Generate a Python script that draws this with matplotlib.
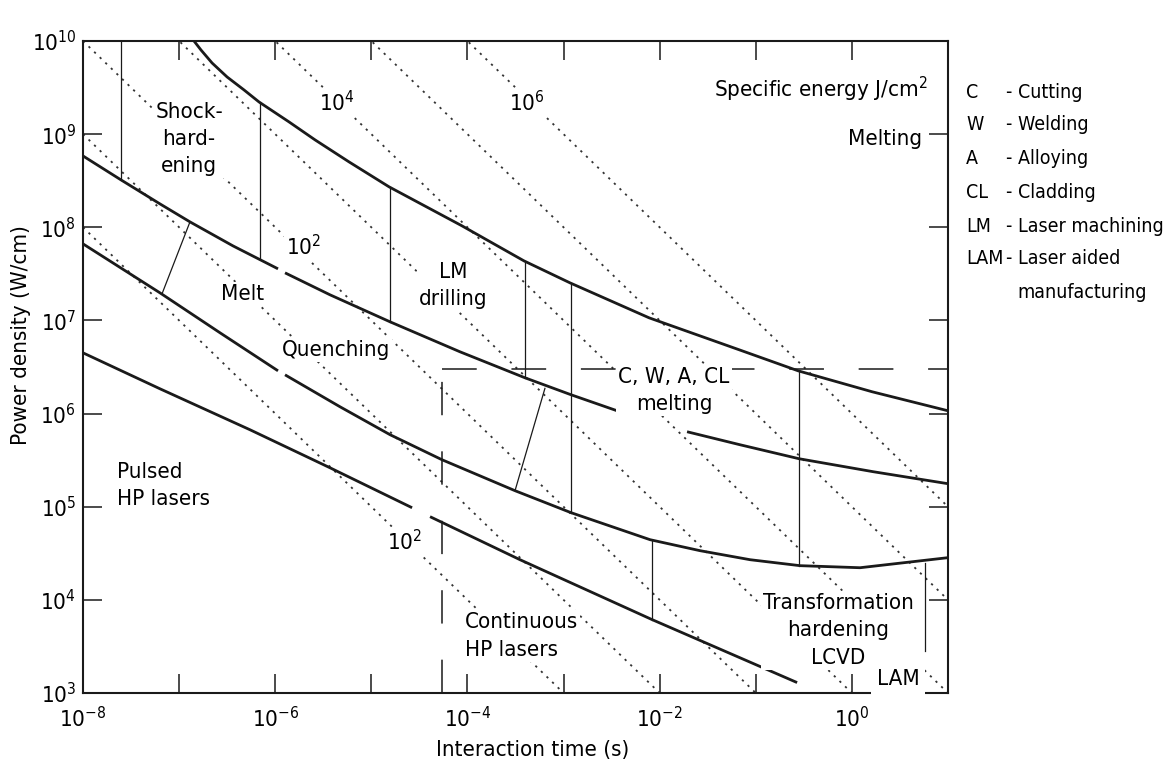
import numpy as np
import matplotlib
matplotlib.use("Agg")
import matplotlib.pyplot as plt

plt.rcParams["font.family"] = ["DejaVu Sans"]
plt.rcParams["font.stretch"] = "condensed"
plt.rcParams["mathtext.default"] = "regular"
plt.rcParams["lines.scale_dashes"] = False

INK = "#1a1a1a"

# boundary curves as log10(time s), log10(power W/cm)
top_lt = [-6.845, -6.772, -6.657, -6.501, -6.324, -6.168, -5.856, -5.585,
          -5.232, -4.815, -4.056, -3.411, -2.932, -2.110, -1.173, -0.559,
          0.211, 1.0]
top_lp = [10.0, 9.903, 9.764, 9.614, 9.474, 9.345, 9.131, 8.938,
          8.702, 8.434, 8.015, 7.639, 7.403, 7.028, 6.685, 6.459,
          6.234, 6.030]

melt_a_lt = [-8.0, -7.605, -7.199, -6.887, -6.439, -5.971]
melt_a_lp = [8.766, 8.509, 8.251, 8.058, 7.800, 7.554]
melt_b_lt = [-5.898, -5.430, -4.805, -4.077, -3.401, -2.922, -2.412]
melt_b_lp = [7.511, 7.275, 6.985, 6.663, 6.384, 6.202, 6.019]
melt_c_lt = [-1.715, -1.163, -0.549, 0.221, 1.0]
melt_c_lp = [5.805, 5.665, 5.515, 5.376, 5.247]

quench_a_lt = [-8.0, -7.199, -6.574, -5.971]
quench_a_lp = [7.822, 7.296, 6.867, 6.459]
quench_b_lt = [-5.898, -5.326, -4.805, -4.264, -3.505, -2.922, -2.100,
               -1.580, -1.059, -0.539, 0.085, 1.0]
quench_b_lp = [6.416, 6.073, 5.773, 5.504, 5.172, 4.936, 4.646,
               4.528, 4.431, 4.367, 4.345, 4.453]

cw_a_lt = [-8.0, -7.199, -6.262, -5.430, -4.576]
cw_a_lp = [6.652, 6.266, 5.826, 5.418, 4.989]
cw_b_lt = [-4.389, -3.453, -2.079, -0.570]
cw_b_lp = [4.893, 4.431, 3.788, 3.112]

# thin region dividers: log10 time, lower and upper log10 power
div_lt = [-7.605, -6.158, -4.805, -3.401, -2.922, -2.079, -0.549, 0.762]
div_lo = [8.509, 7.672, 6.985, 6.384, 4.936, 3.788, 4.367, 3.455]
div_hi = [10.0, 9.345, 8.434, 7.639, 7.403, 4.646, 6.459, 4.399]

# slanted dividers
slant_lt = [[-6.887, -7.178], [-3.192, -3.505]]
slant_lp = [[8.058, 7.285], [6.277, 5.172]]

# iso specific energy lines, J/cm2
energy_levels = [1e0, 1e1, 1e2, 1e3, 1e4, 1e5, 1e6]

# dashed limits of continuous lasers
cw_time = 5.4e-5
cw_power = 3e6

x_exps = list(range(-8, 2))
y_exps = list(range(3, 11))

legend_keys = ["C", "W", "A", "CL", "LM", "LAM"]
legend_names = ["- Cutting", "- Welding", "- Alloying", "- Cladding",
                "- Laser machining", "- Laser aided"]


def curve(ax, lt, lp, lw=2.0):
    ax.plot(10 ** np.array(lt), 10 ** np.array(lp), color=INK, lw=lw,
            solid_capstyle="butt", solid_joinstyle="round", zorder=3)


fig = plt.figure(figsize=(11.65, 7.76), dpi=100)
ax = fig.add_axes([83 / 1165, 1 - 693 / 776, 865 / 1165, 652 / 776])
ax.set_xscale("log")
ax.set_yscale("log")
ax.set_xlim(1e-8, 1e1)
ax.set_ylim(1e3, 1e10)

t_span = np.array([1e-8, 1e1])
for e in energy_levels:
    ax.plot(t_span, e / t_span, color="#333333", lw=1.3,
            dashes=(1.6, 4.0), zorder=1)

for lt, lp in [(top_lt, top_lp), (melt_a_lt, melt_a_lp), (melt_b_lt, melt_b_lp),
               (melt_c_lt, melt_c_lp), (quench_a_lt, quench_a_lp),
               (quench_b_lt, quench_b_lp), (cw_a_lt, cw_a_lp), (cw_b_lt, cw_b_lp)]:
    curve(ax, lt, lp)

for x, lo, hi in zip(div_lt, div_lo, div_hi):
    ax.plot([10 ** x, 10 ** x], [10 ** lo, 10 ** hi], color=INK, lw=0.9, zorder=3)
for lt, lp in zip(slant_lt, slant_lp):
    curve(ax, lt, lp, lw=0.9)

ax.plot([cw_time, 1e1], [cw_power, cw_power], color=INK, lw=1.1,
        dashes=(25, 25), zorder=2)
ax.plot([cw_time, cw_time], [1e3, cw_power], color=INK, lw=1.1,
        dashes=(24, 26), zorder=2)

box = dict(facecolor="white", edgecolor="none", pad=1.5)
fs = 16
labels = [
    (1.27e-7, 8.9e8, "Shock-\nhard-\nening"),
    (4.4e-6, 2.2e9, "$10^{4}$"),
    (4.17e-4, 2.2e9, "$10^{6}$"),
    (1.95e-6, 6.2e7, "$10^{2}$"),
    (4.6e-7, 1.9e7, "Melt"),
    (4.3e-6, 4.8e6, "Quenching"),
    (7.1e-5, 2.35e7, "LM\ndrilling"),
    (1.41e-2, 1.76e6, "C, W, A, CL\nmelting"),
    (2.24e-5, 4.2e4, "$10^{2}$"),
    (0.72, 4.7e3, "Transformation\nhardening\nLCVD"),
]
for x, y, s in labels:
    ax.text(x, y, s, ha="center", va="center", fontsize=fs, linespacing=1.45,
            bbox=box, zorder=4)
ax.text(3.03, 1.4e3, "LAM", ha="center", va="center", fontsize=fs,
        bbox=dict(facecolor="white", edgecolor="none", pad=4), zorder=4)
ax.text(2.26e-8, 1.68e5, "Pulsed\nHP lasers", ha="left", va="center",
        fontsize=fs, linespacing=1.45, bbox=box, zorder=4)
ax.text(9.4e-5, 4.1e3, "Continuous\nHP lasers", ha="left", va="center",
        fontsize=fs, linespacing=1.45, bbox=box, zorder=4)
ax.text(6.2, 3.05e9, "Specific energy J/cm$^{2}$", ha="right", va="center",
        fontsize=fs, bbox=box, zorder=4)
ax.text(5.4, 8.9e8, "Melting", ha="right", va="center", fontsize=fs,
        bbox=box, zorder=4)

ax.set_xticks([10.0 ** e for e in x_exps],
              [f"$10^{{{e}}}$" if e % 2 == 0 else "" for e in x_exps])
ax.set_yticks([10.0 ** e for e in y_exps], [f"$10^{{{e}}}$" for e in y_exps])
ax.xaxis.set_minor_locator(matplotlib.ticker.NullLocator())
ax.yaxis.set_minor_locator(matplotlib.ticker.NullLocator())
ax.tick_params(which="major", direction="in", top=True, right=True,
               length=14, width=1.1, color=INK, labelsize=fs)
ax.tick_params(axis="x", pad=9)
ax.tick_params(axis="y", pad=5)
for sp in ax.spines.values():
    sp.set_linewidth(1.5)
    sp.set_color(INK)

fig.text(533 / 1165, 1 - 750 / 776, "Interaction time (s)", ha="center",
         va="center", fontsize=fs)
fig.text(21 / 1165, 1 - 335 / 776, "Power density (W/cm)", ha="center",
         va="center", rotation=90, fontsize=fs)

# abbreviations legend to the right of the axes
lfs = 14
rows = [92, 125, 159, 193, 226, 259]
for y, k, n in zip(rows, legend_keys, legend_names):
    fig.text(966 / 1165, 1 - y / 776, k, ha="left", va="center", fontsize=lfs)
    fig.text(1006 / 1165, 1 - y / 776, n, ha="left", va="center", fontsize=lfs)
fig.text(1017 / 1165, 1 - 293 / 776, "manufacturing", ha="left", va="center",
         fontsize=lfs)

fig.savefig("out.png", dpi=100)
